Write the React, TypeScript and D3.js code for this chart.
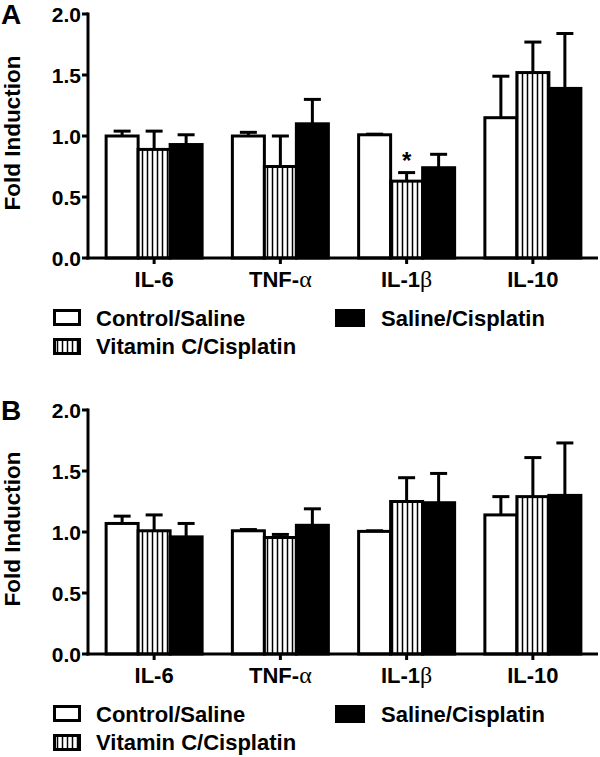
import React from "react";
import * as d3 from "d3";

const categories = ["IL-6", "TNF-α", "IL-1β", "IL-10"];
const seriesNames = ["Control/Saline", "Vitamin C/Cisplatin", "Saline/Cisplatin"];
const yTicks = [0, 0.5, 1.0, 1.5, 2.0];

// Panel A
const aControl = [1.0, 1.0, 1.01, 1.15];
const aVitC = [0.89, 0.75, 0.63, 1.52];
const aSaline = [0.93, 1.1, 0.74, 1.39];
const aControlErr = [0.04, 0.03, 0.005, 0.34];
const aVitCErr = [0.15, 0.25, 0.07, 0.25];
const aSalineErr = [0.08, 0.2, 0.11, 0.45];

// Panel B
const bControl = [1.07, 1.01, 1.005, 1.14];
const bVitC = [1.01, 0.955, 1.25, 1.29];
const bSaline = [0.96, 1.055, 1.24, 1.3];
const bControlErr = [0.06, 0.01, 0.005, 0.15];
const bVitCErr = [0.13, 0.025, 0.195, 0.32];
const bSalineErr = [0.11, 0.135, 0.24, 0.43];

const FONT = "'Liberation Sans', Arial, sans-serif";

function CatLabel({ text, x, y }: { text: string; x: number; y: number }) {
  const greek = /[αβ]/;
  const parts: React.ReactNode[] = [];
  let buf = "";
  text.split("").forEach((ch, i) => {
    if (greek.test(ch)) {
      if (buf) parts.push(<tspan key={"t" + i}>{buf}</tspan>);
      buf = "";
      parts.push(
        <tspan key={"g" + i} fontFamily="'Liberation Serif', 'DejaVu Serif', serif" fontWeight="normal" fontSize={24}>
          {ch}
        </tspan>
      );
    } else buf += ch;
  });
  if (buf) parts.push(<tspan key="end">{buf}</tspan>);
  return (
    <text x={x} y={y} textAnchor="middle" fontFamily={FONT} fontWeight="bold" fontSize={22}>
      {parts}
    </text>
  );
}

function Panel({
  letter,
  top,
  means,
  errs,
  star,
}: {
  letter: string;
  top: number;
  means: number[][];
  errs: number[][];
  star?: { cat: number; series: number };
}) {
  const yTop = top + 14;
  const yBot = top + 258;
  const y = d3.scaleLinear().domain([0, 2]).range([yBot, yTop]);
  const x0 = d3.scaleBand<string>().domain(categories).range([91, 596]).paddingInner(0).paddingOuter(0);
  const groupW = 96;
  const x1 = d3.scaleBand<number>().domain([0, 1, 2]).range([0, groupW]);
  const bw = x1.bandwidth();
  const fills = ["#fff", "url(#stripes)", "#000"];
  const capW = 17;

  return (
    <g>
      <text x={1} y={top + 24} fontFamily={FONT} fontWeight="bold" fontSize={28}>
        {letter}
      </text>
      <text
        transform={`translate(20,${(yTop + yBot) / 2 - 3}) rotate(-90)`}
        textAnchor="middle"
        fontFamily={FONT}
        fontWeight="bold"
        fontSize={22.5}
      >
        Fold Induction
      </text>
      {/* y ticks */}
      {yTicks.map((t) => (
        <g key={t}>
          <line x1={82} x2={88} y1={y(t)} y2={y(t)} stroke="#000" strokeWidth={3} />
          <text x={81} y={y(t) + 7.5} textAnchor="end" fontFamily={FONT} fontWeight="bold" fontSize={21}>
            {t.toFixed(1)}
          </text>
        </g>
      ))}
      {/* error bars */}
      {categories.map((c, ci) =>
        means.map((s, si) => {
          const cx = (x0(c) as number) + x0.bandwidth() / 2 - groupW / 2 + (x1(si) as number) + bw / 2;
          const m = s[ci];
          const e = errs[si][ci];
          return (
            <g key={`e${ci}-${si}`}>
              <line x1={cx} x2={cx} y1={y(m)} y2={y(m + e)} stroke="#000" strokeWidth={3} />
              <line x1={cx - capW / 2} x2={cx + capW / 2} y1={y(m + e)} y2={y(m + e)} stroke="#000" strokeWidth={3} />
            </g>
          );
        })
      )}
      {/* bars */}
      {categories.map((c, ci) =>
        means.map((s, si) => {
          const bx = (x0(c) as number) + x0.bandwidth() / 2 - groupW / 2 + (x1(si) as number);
          const m = s[ci];
          return (
            <rect
              key={`b${ci}-${si}`}
              x={bx}
              y={y(m)}
              width={bw}
              height={yBot - y(m)}
              fill={fills[si]}
              stroke="#000"
              strokeWidth={3}
            />
          );
        })
      )}
      {star && (
        <text
          x={(x0(categories[star.cat]) as number) + x0.bandwidth() / 2 - groupW / 2 + (x1(star.series) as number) + bw / 2}
          y={y(means[star.series][star.cat] + errs[star.series][star.cat]) - 4}
          textAnchor="middle"
          fontFamily={FONT}
          fontWeight="bold"
          fontSize={24}
        >
          *
        </text>
      )}
      {/* axes */}
      <line x1={88} x2={88} y1={yTop - 1.5} y2={yBot + 1.5} stroke="#000" strokeWidth={3} />
      <line x1={86.5} x2={598} y1={yBot} y2={yBot} stroke="#000" strokeWidth={3} />
      {categories.map((c) => {
        const cx = (x0(c) as number) + x0.bandwidth() / 2;
        return (
          <g key={c}>
            <line x1={cx} x2={cx} y1={yBot} y2={yBot + 6} stroke="#000" strokeWidth={3} />
            <CatLabel text={c} x={cx} y={yBot + 29} />
          </g>
        );
      })}
      {/* legend */}
      <rect x={54.5} y={top + 310.5} width={25} height={14} fill="#fff" stroke="#000" strokeWidth={3} />
      <text x={96} y={top + 326} fontFamily={FONT} fontWeight="bold" fontSize={22}>
        {seriesNames[0]}
      </text>
      <rect x={54.5} y={top + 339.5} width={25} height={14} fill="url(#stripes)" stroke="#000" strokeWidth={3} />
      <text x={96} y={top + 354} fontFamily={FONT} fontWeight="bold" fontSize={22}>
        {seriesNames[1]}
      </text>
      <rect x={336} y={top + 310} width={28} height={16} fill="#000" stroke="#000" strokeWidth={2} />
      <text x={381} y={top + 326} fontFamily={FONT} fontWeight="bold" fontSize={22}>
        {seriesNames[2]}
      </text>
    </g>
  );
}

export default function App() {
  return (
    <svg width={600} height={757} style={{ position: "absolute", left: 0, top: 0, background: "#fff" }}>
      <defs>
        <pattern id="stripes" patternUnits="userSpaceOnUse" width={5} height={10}>
          <rect width={5} height={10} fill="#fff" />
          <line x1={2.5} x2={2.5} y1={0} y2={10} stroke="#000" strokeWidth={1.5} />
        </pattern>
      </defs>
      <rect width={600} height={757} fill="#fff" />
      <Panel
        letter="A"
        top={0}
        means={[aControl, aVitC, aSaline]}
        errs={[aControlErr, aVitCErr, aSalineErr]}
        star={{ cat: 2, series: 1 }}
      />
      <Panel letter="B" top={396} means={[bControl, bVitC, bSaline]} errs={[bControlErr, bVitCErr, bSalineErr]} />
    </svg>
  );
}
